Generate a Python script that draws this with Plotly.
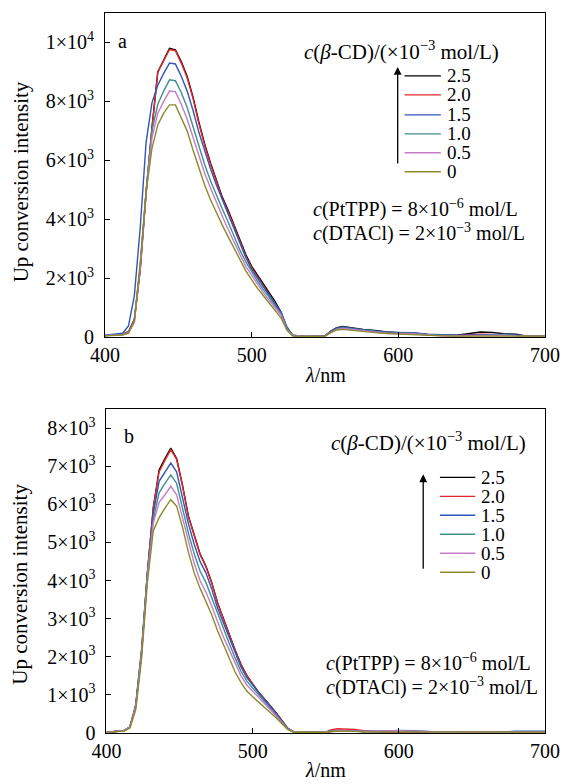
import plotly.graph_objects as go

# ---------------- data ----------------
wavelength = [400, 404, 408, 412, 416, 420, 424, 428, 432, 436, 440, 444, 448, 452, 456, 460,
              464, 468, 472, 476, 480, 484, 488, 492, 496, 500, 504, 508, 512, 516, 520, 524,
              528, 536, 544, 550, 554, 558, 562, 566, 570, 576, 584, 592, 600, 610, 620, 630,
              640, 648, 656, 664, 672, 680, 688, 700]

concentrations = ["2.5", "2.0", "1.5", "1.0", "0.5", "0"]

# panel a
a_25 = [50, 70, 80, 90, 180, 600, 2300, 4900, 7100, 9000, 9400, 9800, 9750, 9350, 8850, 8150,
        7300, 6550, 5900, 5300, 4750, 4300, 3800, 3250, 2800, 2400, 2100, 1800, 1500, 1200, 850, 300,
        60, 20, 20, 40, 200, 320, 360, 330, 280, 260, 220, 170, 150, 140, 90, 60,
        60, 120, 170, 160, 110, 100, 30, 30]
a_20 = [50, 70, 80, 90, 170, 580, 2250, 4850, 7050, 9000, 9380, 9760, 9720, 9300, 8800, 8100,
        7250, 6500, 5850, 5250, 4700, 4250, 3750, 3200, 2750, 2350, 2050, 1750, 1450, 1150, 820, 290,
        50, 20, 20, 40, 180, 300, 330, 300, 260, 230, 190, 150, 130, 110, 80, 50,
        50, 80, 100, 90, 60, 50, 30, 30]
a_15 = [60, 90, 100, 130, 380, 1400, 3700, 6600, 7950, 8550, 8950, 9300, 9270, 8850, 8350, 7700,
        6950, 6300, 5700, 5150, 4650, 4150, 3650, 3150, 2700, 2300, 1980, 1700, 1420, 1150, 850, 350,
        60, 20, 20, 40, 190, 300, 340, 310, 270, 250, 210, 170, 160, 150, 100, 70,
        60, 60, 80, 90, 100, 70, 30, 30]
a_10 = [50, 70, 80, 90, 150, 520, 2400, 4950, 7000, 7900, 8350, 8730, 8700, 8300, 7800, 7150,
        6450, 5850, 5300, 4800, 4350, 3900, 3400, 2950, 2550, 2200, 1900, 1600, 1350, 1050, 780, 280,
        50, 20, 20, 30, 170, 280, 310, 290, 250, 220, 180, 140, 130, 120, 80, 50,
        40, 50, 60, 70, 80, 50, 30, 30]
a_05 = [50, 60, 70, 80, 140, 500, 2400, 4900, 6750, 7600, 8000, 8350, 8330, 7900, 7400, 6800,
        6150, 5550, 5050, 4550, 4100, 3650, 3200, 2800, 2400, 2100, 1800, 1500, 1250, 1000, 750, 260,
        50, 20, 20, 30, 160, 260, 290, 270, 230, 200, 160, 130, 120, 110, 70, 40,
        40, 50, 60, 60, 60, 40, 30, 30]
a_00 = [40, 50, 60, 70, 130, 550, 2500, 4900, 6400, 7200, 7600, 7880, 7880, 7450, 7000, 6350,
        5750, 5150, 4650, 4200, 3800, 3400, 3000, 2600, 2250, 1950, 1650, 1400, 1150, 900, 650, 240,
        40, 20, 20, 30, 150, 240, 260, 240, 200, 180, 150, 120, 100, 90, 60, 40,
        30, 30, 40, 40, 40, 30, 30, 30]

# panel b
b_25 = [20, 30, 40, 60, 150, 700, 2100, 4200, 5900, 6900, 7200, 7470, 7200, 6500, 5700, 5200,
        4700, 4380, 3950, 3420, 3000, 2600, 2180, 1800, 1510, 1290, 1070, 900, 720, 530, 330, 120,
        30, 20, 20, 20, 40, 60, 60, 60, 50, 40, 30, 30, 30, 30, 30, 20,
        20, 20, 20, 20, 20, 20, 20, 20]
b_20 = [20, 30, 40, 60, 150, 700, 2100, 4200, 5900, 6850, 7150, 7430, 7180, 6480, 5680, 5180,
        4680, 4360, 3930, 3400, 2980, 2580, 2170, 1790, 1500, 1280, 1060, 890, 710, 520, 320, 120,
        30, 20, 20, 30, 90, 110, 110, 100, 90, 60, 40, 30, 30, 30, 30, 20,
        20, 20, 20, 20, 20, 20, 20, 20]
b_15 = [20, 30, 50, 70, 160, 750, 2200, 4200, 5750, 6600, 6850, 7080, 6850, 6200, 5500, 4950,
        4500, 4200, 3780, 3280, 2880, 2500, 2100, 1730, 1450, 1250, 1060, 880, 700, 510, 310, 120,
        30, 20, 20, 20, 60, 70, 70, 60, 50, 40, 50, 60, 70, 60, 40, 20,
        20, 20, 20, 20, 30, 50, 50, 50]
b_10 = [20, 30, 40, 60, 150, 700, 2100, 4150, 5600, 6300, 6550, 6770, 6550, 5900, 5250, 4700,
        4250, 3950, 3550, 3100, 2700, 2350, 1970, 1620, 1360, 1180, 1000, 830, 660, 480, 290, 110,
        30, 20, 20, 20, 50, 60, 60, 60, 50, 40, 40, 50, 50, 40, 30, 20,
        20, 20, 20, 20, 20, 20, 30, 30]
b_05 = [20, 30, 40, 60, 150, 680, 2050, 4100, 5500, 6050, 6250, 6470, 6250, 5650, 5000, 4450,
        4000, 3700, 3330, 2900, 2520, 2180, 1830, 1500, 1260, 1100, 940, 780, 620, 450, 270, 100,
        30, 20, 20, 20, 50, 60, 60, 60, 50, 40, 50, 60, 60, 50, 30, 20,
        20, 20, 20, 20, 20, 20, 20, 20]
b_00 = [20, 30, 40, 50, 130, 600, 1950, 3950, 5300, 5650, 5900, 6120, 5950, 5400, 4750, 4200,
        3800, 3450, 3100, 2680, 2320, 1980, 1600, 1330, 1100, 950, 820, 680, 540, 400, 250, 90,
        20, 20, 20, 20, 40, 50, 50, 50, 40, 30, 30, 30, 30, 20, 20, 20,
        20, 20, 20, 20, 20, 20, 20, 20]

x_ticks = [400, 500, 600, 700]
a_yticks = [0, 2000, 4000, 6000, 8000, 10000]
a_yticktext = ["0", "2×10<sup>3</sup>", "4×10<sup>3</sup>", "6×10<sup>3</sup>",
               "8×10<sup>3</sup>", "1×10<sup>4</sup>"]
b_yticks = [0, 1000, 2000, 3000, 4000, 5000, 6000, 7000, 8000]
b_yticktext = ["0", "1×10<sup>3</sup>", "2×10<sup>3</sup>", "3×10<sup>3</sup>", "4×10<sup>3</sup>",
               "5×10<sup>3</sup>", "6×10<sup>3</sup>", "7×10<sup>3</sup>", "8×10<sup>3</sup>"]

colors = ["#000000", "#e8262d", "#2f56b8", "#428e90", "#c77cc8", "#8a8a2c"]

# ---------------- figure ----------------
W, H = 572, 784
ML, MR, MT, MB = 105, 19, 12, 51
PW, PH = W - ML - MR, H - MT - MB
FONT = "Liberation Serif"
FS = 20


def px(xp):
    return (xp - ML) / PW


def py(yp):
    return (H - MB - yp) / PH


fig = go.Figure()
for series, col, name in zip([a_25, a_20, a_15, a_10, a_05, a_00], colors, concentrations):
    fig.add_trace(go.Scatter(x=wavelength, y=series, mode="lines", name=name,
                             line=dict(color=col, width=1.4), xaxis="x", yaxis="y",
                             showlegend=False))
for series, col, name in zip([b_25, b_20, b_15, b_10, b_05, b_00], colors, concentrations):
    fig.add_trace(go.Scatter(x=wavelength, y=series, mode="lines", name=name,
                             line=dict(color=col, width=1.4), xaxis="x2", yaxis="y2",
                             showlegend=False))

axis_common = dict(showline=True, linecolor="black", linewidth=1, mirror=True,
                   ticks="inside", ticklen=5, tickcolor="black", showgrid=False,
                   zeroline=False, tickfont=dict(family=FONT, size=FS, color="black"))

a_top, a_bot = 12, 336.5
b_top, b_bot = 408.5, 733

fig.update_layout(
    width=W, height=H,
    margin=dict(l=ML, r=MR, t=MT, b=MB),
    paper_bgcolor="white", plot_bgcolor="white",
    font=dict(family=FONT, size=FS, color="black"),
    xaxis=dict(domain=[0, 1], range=[400, 700], tickvals=x_ticks, anchor="y", **axis_common),
    yaxis=dict(domain=[py(a_bot), py(a_top)], range=[0, 11000], tickvals=a_yticks,
               ticktext=a_yticktext, anchor="x", ticklabelstandoff=6, **axis_common),
    xaxis2=dict(domain=[px(106.5), 1], range=[400, 700], tickvals=x_ticks, anchor="y2", **axis_common),
    yaxis2=dict(domain=[py(b_bot), py(b_top)], range=[0, 8500], tickvals=b_yticks,
                ticktext=b_yticktext, anchor="x2", ticklabelstandoff=6, **axis_common),
)

ann = []
shapes = []


def text(xp, yp, s, xanchor="left", size=FS, angle=0):
    ann.append(dict(x=px(xp), y=py(yp), xref="paper", yref="paper", text=s, showarrow=False,
                    xanchor=xanchor, yanchor="middle", textangle=angle,
                    font=dict(family=FONT, size=size, color="black")))


# axis titles
text(19, 181, "Up conversion intensity", xanchor="center", size=21, angle=-90)
text(19, 584, "Up conversion intensity", xanchor="center", size=21, angle=-90)
text(329, 375, "<i>λ</i>/nm", xanchor="center")
text(330, 770, "<i>λ</i>/nm", xanchor="center")

# panel letters
text(116, 40, "a")
text(122, 436, "b")

legend_title = "<i>c</i>(<i>β</i>-CD)/(×10<sup>−3</sup> mol/L)"
cond1 = "<i>c</i>(PtTPP) = 8×10<sup>−6</sup> mol/L"
cond2 = "<i>c</i>(DTACl) = 2×10<sup>−3</sup> mol/L"


def legend_block(title_x, title_y, line_x0, line_x1, ys, arrow_x, arrow_y0, arrow_y1,
                 cond_x, cond_y1, cond_y2):
    text(title_x, title_y, legend_title, size=21)
    for yy, col, name in zip(ys, colors, concentrations):
        shapes.append(dict(type="line", xref="paper", yref="paper",
                           x0=px(line_x0), x1=px(line_x1), y0=py(yy), y1=py(yy),
                           line=dict(color=col, width=1.4)))
        text(line_x1 + 4, yy, name, size=19)
    ann.append(dict(x=px(arrow_x), y=py(arrow_y1), xref="paper", yref="paper",
                    ax=0, ay=arrow_y0 - arrow_y1, axref="pixel", ayref="pixel",
                    text="", showarrow=True, arrowhead=2, arrowsize=1.2, arrowwidth=1.3,
                    arrowcolor="black"))
    text(cond_x, cond_y1, cond1, size=20)
    text(cond_x, cond_y2, cond2, size=20)


legend_block(306, 50, 410, 447, [75, 94, 114, 133, 152, 171], 403, 164, 66, 315, 208, 232)
legend_block(333, 441, 446, 482, [477, 496, 515, 534, 553, 572], 429, 570, 474, 328, 662, 686)

fig.update_layout(annotations=ann, shapes=shapes)
fig.write_html("out.html", post_script="document.body.style.margin='0px';",
               config={"displayModeBar": False})
